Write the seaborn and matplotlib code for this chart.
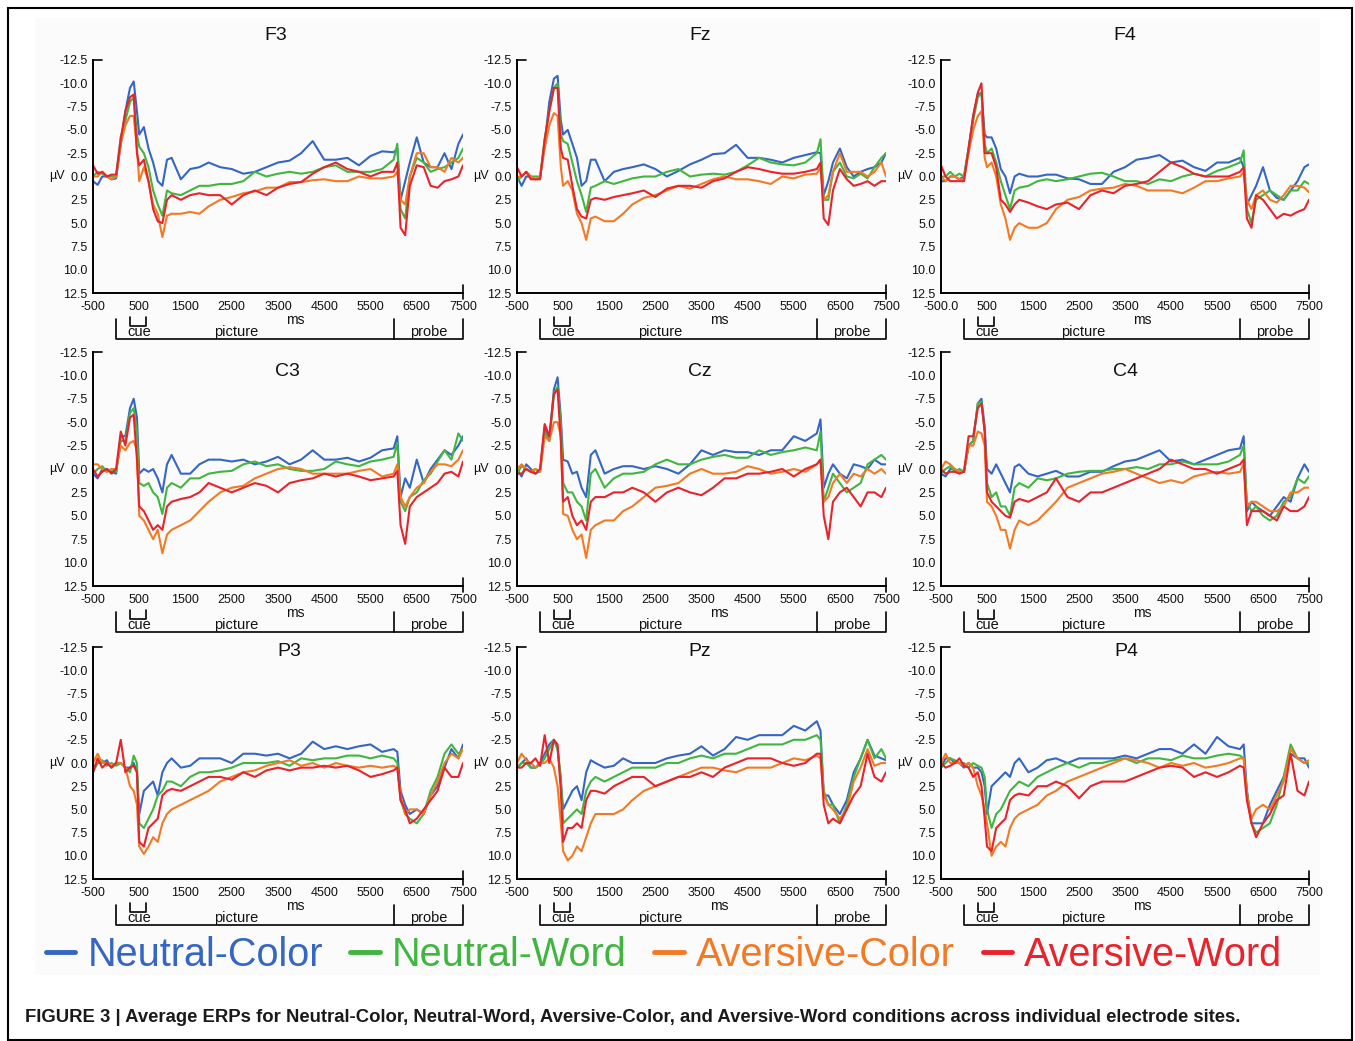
import matplotlib
matplotlib.use('Agg')
import matplotlib.pyplot as plt
from matplotlib import font_manager
from matplotlib.lines import Line2D
from matplotlib.patches import Rectangle
import pandas as pd
import seaborn as sns

# time points (ms) shared by all traces
ms = [-500, -400, -300, -200, -100, 0, 100, 200, 300, 380,
      450, 500, 600, 700, 800, 900, 1000, 1100, 1200, 1400,
      1600, 1800, 2000, 2250, 2500, 2750, 3000, 3250, 3500, 3750,
      4000, 4250, 4500, 4750, 5000, 5250, 5500, 5750, 6000, 6080,
      6150, 6250, 6350, 6500, 6650, 6800, 6950, 7100, 7250, 7400,
      7500]

conditions = ['Neutral-Color', 'Neutral-Word', 'Aversive-Color', 'Aversive-Word']
colors = ['#3566c4', '#40b640', '#f27a24', '#e8232b']
sites = ['F3', 'Fz', 'F4', 'C3', 'Cz', 'C4', 'P3', 'Pz', 'P4']

# values in microvolts (negative plotted up)
f3_nc = [0.5, 0.9, 0.0, 0.0, 0.3, 0.2, -3.5, -7.0, -9.5, -10.2,
         -7.0, -4.5, -5.3, -3.0, -1.5, 0.5, 1.0, -1.8, -2.0, 0.3,
         -0.8, -1.0, -1.5, -1.0, -0.8, -0.3, -0.5, -1.0, -1.5, -1.7,
         -2.5, -3.8, -1.8, -1.8, -2.0, -1.2, -2.2, -2.7, -2.6, -3.0,
         2.5, 0.5, -1.5, -4.2, -1.5, -1.0, -1.0, -2.5, -0.8, -3.5,
         -4.5]
f3_nw = [0.0, -0.5, -0.3, 0.0, 0.0, 0.0, -4.3, -6.0, -8.0, -8.5,
         -4.5, -3.2, -2.5, -1.0, 1.5, 3.0, 4.2, 1.5, 1.8, 2.0,
         1.5, 1.0, 1.0, 0.8, 0.8, 0.5, -0.5, 0.0, -0.3, -0.5,
         -0.3, -0.5, -1.0, -1.2, -0.5, -0.5, -0.5, -0.8, -1.8, -3.5,
         3.5, 4.5, 0.0, -2.0, -1.5, -0.5, -0.8, -1.0, -1.5, -2.0,
         -3.0]
f3_ac = [0.0, 0.0, -0.5, 0.0, 0.3, 0.0, -3.5, -5.5, -6.5, -6.5,
         -3.0, 0.5, -1.0, 0.5, 3.0, 4.0, 6.5, 4.2, 4.0, 4.0,
         3.8, 4.0, 3.2, 2.5, 2.2, 1.8, 1.6, 1.2, 1.2, 0.6,
         0.6, 0.4, 0.3, 0.5, 0.5, 0.0, 0.2, 0.2, 0.0, -0.5,
         2.5, 3.0, 0.0, -2.5, -2.5, -1.0, -1.0, -0.5, -2.0, -1.5,
         -2.0]
f3_aw = [-1.2, -0.3, -0.5, 0.0, -0.2, -0.2, -4.0, -7.0, -8.5, -8.8,
         -2.5, -1.2, -1.8, 0.5, 3.5, 4.8, 5.0, 2.5, 2.0, 2.5,
         2.0, 1.8, 2.0, 2.0, 3.0, 2.0, 1.5, 2.0, 1.2, 0.8,
         0.6, -0.3, -1.0, -1.5, -0.8, -0.5, 0.0, -0.5, -0.5, -1.5,
         5.5, 6.3, 1.0, -1.2, -1.0, 1.0, 1.2, 0.5, 0.3, 0.0,
         -1.2]

fz_nc = [0.0, 1.0, 0.0, 0.0, 0.3, 0.2, -3.5, -8.0, -10.5, -10.8,
         -6.0, -4.5, -5.0, -3.5, -2.0, 1.0, 0.5, -1.8, -1.8, 0.5,
         -0.5, -0.8, -1.0, -1.3, -0.8, 0.0, -0.6, -1.3, -1.8, -2.4,
         -2.5, -3.4, -2.0, -2.0, -1.8, -1.5, -2.0, -2.3, -2.6, -2.5,
         2.0, 0.5, -1.5, -3.0, -1.0, 0.0, -0.5, -0.8, -1.0, -1.5,
         -2.5]
fz_nw = [0.5, 0.0, -0.5, 0.0, 0.0, 0.0, -4.0, -7.0, -9.5, -10.0,
         -4.5, -3.8, -3.5, -1.5, 0.5, 2.0, 3.8, 1.2, 1.0, 0.5,
         0.8, 0.5, 0.2, 0.0, 0.0, -0.5, -0.8, 0.0, -0.2, -0.3,
         -0.2, -0.5, -1.2, -2.0, -1.5, -1.3, -1.2, -1.5, -2.5, -4.0,
         2.5, 2.5, -0.5, -1.5, 0.0, 0.2, -0.3, 0.2, -1.0, -2.0,
         -2.5]
fz_ac = [0.0, 0.0, -0.5, 0.0, 0.3, 0.0, -3.0, -5.5, -6.8, -6.5,
         -1.0, 1.0, 0.5, 1.5, 4.0, 5.0, 6.8, 4.5, 4.3, 4.8,
         4.8, 4.0, 3.0, 2.3, 2.0, 1.5, 1.0, 1.3, 0.8, 0.3,
         0.0, 0.3, 0.3, 0.5, 0.8, 0.0, 0.2, -0.2, -0.3, -1.0,
         2.5, 2.0, -0.5, -2.5, -0.5, -0.5, -0.5, 0.0, -0.5, -1.5,
         0.0]
fz_aw = [-1.0, 0.0, -0.5, 0.3, 0.3, 0.3, -4.0, -7.0, -9.5, -9.5,
         -3.0, -2.0, -1.8, 1.0, 3.5, 4.3, 4.5, 2.5, 2.3, 2.5,
         2.2, 2.0, 1.8, 1.5, 2.2, 1.3, 1.0, 1.0, 1.2, 0.5,
         0.2, -0.5, -1.0, -0.8, -0.5, -0.3, -0.3, -0.5, -0.8, -1.5,
         4.5, 5.2, 1.5, -0.8, 0.3, 1.0, 0.8, 0.5, 1.0, 0.5,
         0.5]

f4_nc = [0.5, 0.5, 0.0, 0.0, 0.3, 0.0, -3.0, -6.5, -8.8, -9.0,
         -4.5, -4.2, -4.2, -3.0, -0.8, 0.0, 1.8, 0.0, -0.3, 0.0,
         0.0, -0.2, -0.2, 0.2, 0.3, 0.8, 0.8, -0.5, -1.0, -1.8,
         -2.0, -2.3, -1.5, -1.7, -1.0, -0.6, -1.5, -1.5, -2.0, -1.0,
         3.0, 2.0, 1.0, -1.0, 1.5, 2.3, 2.5, 1.5, 0.5, -1.0,
         -1.3]
f4_nw = [0.0, 0.0, -0.5, 0.0, -0.3, 0.0, -3.0, -6.0, -8.5, -9.0,
         -3.5, -2.5, -3.0, -1.5, 0.5, 2.0, 3.5, 1.5, 1.2, 1.0,
         0.5, 0.3, 0.5, 0.3, 0.0, -0.3, -0.4, 0.0, 0.5, 0.5,
         0.8, 0.3, 0.5, 0.0, -0.3, 0.0, -0.6, -1.0, -1.5, -2.8,
         3.5, 5.0, 2.5, 2.0, 1.5, 2.0, 2.5, 1.5, 1.5, 0.5,
         0.8]
f4_ac = [0.0, 0.5, 0.0, 0.0, 0.3, 0.3, -2.5, -5.0, -6.5, -7.0,
         -2.0, -1.0, -1.5, 0.0, 3.0, 4.5, 6.8, 5.5, 5.0, 5.5,
         5.5, 5.0, 3.5, 2.5, 2.2, 1.5, 1.3, 1.2, 0.8, 1.0,
         1.5, 1.5, 1.5, 1.8, 1.2, 0.5, 0.5, 0.2, 0.0, -0.5,
         2.5, 3.5, 2.0, 1.5, 2.5, 2.8, 2.0, 1.0, 1.0, 1.2,
         1.7]
f4_aw = [-1.2, 0.0, 0.5, 0.5, 0.5, 0.5, -3.0, -6.5, -9.0, -10.0,
         -2.5, -2.5, -2.5, -1.0, 2.5, 3.0, 3.8, 3.0, 2.5, 2.8,
         3.2, 3.5, 3.0, 2.8, 3.5, 2.0, 1.5, 1.8, 1.0, 0.8,
         0.5, -0.5, -1.5, -1.0, -0.3, 0.0, 0.0, 0.0, -0.5, -1.0,
         4.5, 5.5, 2.0, 2.5, 3.5, 4.5, 4.0, 4.2, 3.8, 3.5,
         2.5]

c3_nc = [0.5, 1.0, 0.0, 0.0, 0.3, 0.5, -3.5, -3.5, -6.5, -7.5,
         -5.5, 0.5, 0.0, 0.3, 0.0, 1.0, 2.5, -0.5, -1.5, 0.5,
         0.5, -0.5, -1.0, -1.0, -0.8, -1.0, -0.5, -0.8, -1.3, -0.5,
         -1.0, -2.0, -1.0, -1.0, -1.2, -0.8, -1.2, -2.0, -2.2, -3.5,
         3.0, 1.0, 2.0, -1.0, 1.5, 0.0, -1.0, -2.0, -1.5, -2.5,
         -3.5]
c3_nw = [0.5, 0.0, -0.3, 0.3, 0.0, 0.3, -3.0, -3.0, -6.0, -6.5,
         -4.0, 1.5, 1.8, 1.5, 2.5, 3.0, 4.8, 2.0, 1.5, 2.0,
         1.0, 1.0, 0.5, 0.3, 0.2, -0.5, -0.8, -0.3, -0.5, 0.0,
         0.2, 0.2, 0.0, -0.8, -0.5, -0.3, -0.8, -1.0, -1.3, -2.8,
         3.5, 4.5, 3.0, 2.5, 1.2, 0.5, -0.8, -2.0, -1.0, -3.8,
         -3.0]
c3_ac = [-0.5, -0.5, 0.0, 0.3, 0.0, 0.0, -2.5, -2.0, -2.8, -3.0,
         -2.0, 5.0, 5.5, 6.5, 7.5, 6.5, 9.0, 7.0, 6.5, 6.0,
         5.5, 4.5, 3.5, 2.5, 2.0, 1.8, 1.0, 0.5, 0.0, -0.2,
         0.0, 0.5, 0.5, 0.5, 0.5, 0.2, 0.0, 0.8, 0.5, -0.5,
         3.0, 4.0, 3.0, 2.0, 1.5, 0.3, -0.5, -0.5, -0.3, -1.0,
         -2.0]
c3_aw = [0.0, 0.8, 0.3, 0.0, 0.5, 0.0, -4.0, -2.5, -5.5, -5.8,
         -1.0, 4.0, 4.5, 5.5, 6.5, 6.0, 6.5, 4.0, 3.5, 3.2,
         3.0, 2.5, 1.5, 2.0, 2.5, 2.0, 1.5, 1.8, 2.5, 1.5,
         1.2, 1.0, 0.5, 0.8, 0.5, 0.8, 1.2, 1.0, 0.8, 0.2,
         6.0, 8.0, 4.0, 3.0, 2.5, 2.0, 1.5, 0.5, 0.3, 0.8,
         -0.8]

cz_nc = [0.0, 0.8, -0.5, 0.0, 0.5, 0.2, -4.5, -3.0, -8.5, -9.8,
         -5.5, -1.0, -0.8, 0.5, 0.3, 2.0, 3.0, -1.5, -2.0, 0.5,
         0.0, -0.3, -0.3, 0.0, -0.3, 0.0, 0.5, -0.5, -2.0, -1.5,
         -2.0, -1.8, -1.8, -1.5, -2.0, -2.0, -3.5, -3.0, -3.8, -5.3,
         2.0, 0.5, -0.5, 0.5, 1.0, -0.5, -0.3, 0.0, -1.0, -0.5,
         -0.5]
cz_nw = [0.5, -0.3, 0.0, 0.3, 0.0, 0.3, -4.0, -3.0, -8.0, -8.8,
         -5.0, 1.5, 2.5, 2.5, 3.5, 4.0, 5.5, 0.5, 0.0, 2.0,
         1.0, 0.5, 0.5, 0.3, -0.5, -1.0, -0.5, -0.5, -1.0, -1.3,
         -1.5, -1.2, -1.2, -2.0, -1.5, -1.8, -2.0, -2.3, -2.0, -4.0,
         3.5, 2.0, 0.5, 1.5, 2.5, 2.0, 1.5, -0.5, -1.0, -1.5,
         -1.0]
cz_ac = [0.0, -0.5, 0.0, 0.3, 0.0, 0.3, -3.5, -3.0, -5.0, -5.0,
         -3.5, 4.8, 5.0, 6.5, 7.5, 7.0, 9.5, 6.5, 6.0, 5.5,
         5.5, 4.5, 4.0, 3.0, 2.0, 1.8, 1.5, 0.5, 0.0, 0.5,
         0.5, 0.3, -0.3, 0.0, 0.5, 0.3, 0.0, 0.3, -0.5, -1.0,
         3.5, 3.0, 1.5, 0.5, 1.5, 0.5, 0.8, 0.0, 0.5, 0.0,
         0.5]
cz_aw = [0.5, 0.5, 0.0, 0.3, 0.5, 0.0, -4.8, -3.5, -8.0, -8.5,
         -3.0, 3.5, 3.0, 5.0, 6.0, 5.5, 6.5, 3.5, 3.0, 3.0,
         2.5, 2.5, 2.0, 2.5, 3.5, 2.5, 2.0, 2.5, 2.8, 2.0,
         1.0, 1.0, 0.5, 0.5, 0.3, 0.0, 0.8, 0.0, -0.5, -1.0,
         5.0, 7.5, 3.5, 2.5, 2.0, 3.0, 4.0, 2.5, 2.5, 3.0,
         2.0]

c4_nc = [0.5, 0.8, 0.0, 0.0, 0.3, 0.3, -2.5, -3.0, -7.0, -7.5,
         -4.5, 0.0, 0.5, -0.5, 0.5, 1.5, 2.5, -0.2, -0.5, 0.5,
         0.8, 0.5, 0.2, 0.8, 0.8, 0.3, 0.3, -0.3, -0.8, -1.0,
         -1.5, -2.0, -0.8, -1.0, -0.5, -1.0, -1.5, -2.0, -2.2, -3.5,
         4.5, 3.5, 4.0, 4.5, 5.0, 4.0, 3.0, 3.5, 1.0, -0.5,
         0.3]
c4_nw = [0.5, 0.0, -0.3, 0.3, 0.0, 0.3, -2.5, -3.0, -7.0, -7.2,
         -4.0, 1.5, 3.0, 2.5, 4.0, 4.0, 5.0, 2.0, 1.5, 2.0,
         1.0, 1.2, 1.0, 0.5, 0.3, 0.2, 0.2, 0.0, 0.0, -0.2,
         0.0, -0.5, -0.5, -0.8, -0.5, -0.5, -0.5, -0.8, -1.5, -2.5,
         3.5, 4.5, 4.0, 5.0, 5.5, 5.0, 3.5, 3.0, 1.0, 1.5,
         0.8]
c4_ac = [0.0, -0.8, -0.5, 0.0, 0.3, 0.3, -2.5, -2.5, -4.0, -3.8,
         -2.5, 3.5, 4.0, 5.0, 6.5, 6.5, 8.5, 6.5, 5.5, 6.0,
         5.5, 4.5, 3.5, 2.0, 1.5, 1.0, 0.5, 0.3, 0.0, 0.5,
         1.0, 1.5, 1.2, 1.5, 0.8, 0.5, 0.3, 0.5, 0.3, -0.5,
         4.0, 3.5, 3.5, 4.0, 4.5, 4.5, 4.0, 2.5, 2.5, 2.0,
         2.0]
c4_aw = [0.0, 0.5, 0.3, 0.3, 0.5, 0.3, -3.5, -3.5, -6.5, -7.0,
         -4.0, 2.5, 3.5, 4.0, 4.5, 5.0, 5.2, 3.5, 3.2, 3.5,
         3.0, 2.5, 1.0, 3.0, 3.5, 2.5, 2.5, 2.0, 1.5, 1.0,
         0.5, 0.0, -1.0, -0.5, 0.0, 0.0, 0.5, 0.0, -0.5, -1.0,
         6.0, 4.5, 4.5, 4.5, 5.0, 5.5, 4.0, 4.5, 4.5, 4.0,
         3.0]

p3_nc = [0.5, 0.0, 0.0, -0.3, 0.5, 0.0, 0.0, 0.5, 0.5, 0.0,
         1.0, 5.5, 3.0, 2.5, 2.0, 3.5, 1.0, 0.0, -0.5, 0.5,
         0.3, -0.5, -0.5, -0.5, 0.0, -1.0, -1.0, -0.8, -1.0, -0.5,
         -1.0, -2.3, -1.5, -1.8, -1.5, -1.8, -2.0, -1.2, -1.5, -1.2,
         3.0, 4.5, 5.5, 5.0, 5.5, 3.5, 2.5, 0.5, -1.5, -0.5,
         -2.0]
p3_nw = [1.0, 0.0, -0.3, 0.3, 0.0, 0.3, 0.0, 0.5, 1.0, -0.8,
         0.0, 6.5, 7.0, 6.0, 5.0, 3.5, 3.0, 2.0, 2.0, 2.5,
         1.5, 1.0, 1.0, 0.8, 0.5, 0.0, 0.0, 0.0, -0.2, 0.3,
         -0.5, -0.3, -0.5, -0.5, -0.8, -0.8, -0.5, -0.8, -0.5, 0.0,
         4.0, 5.5, 6.0, 6.5, 5.5, 3.0, 1.5, -1.0, -2.0, -1.0,
         -1.5]
p3_ac = [0.0, -1.0, 0.0, 0.0, 0.3, 0.0, 0.0, 0.5, 2.5, 3.0,
         4.5, 9.0, 9.8, 9.0, 8.0, 8.5, 6.5, 5.5, 5.0, 4.5,
         4.0, 3.5, 3.0, 2.0, 1.5, 1.0, 0.8, 0.3, 0.0, -0.3,
         0.3, 0.0, 0.5, 0.0, 0.3, 0.5, 0.3, 0.5, 0.3, 0.5,
         3.5, 5.5, 5.0, 5.0, 5.5, 3.5, 2.0, 0.0, -1.0, -0.5,
         -1.5]
p3_aw = [1.0, -0.5, 0.5, 0.0, 0.5, 0.0, -2.5, 1.0, 0.5, 0.3,
         1.0, 8.5, 9.0, 7.0, 6.5, 6.0, 3.5, 3.0, 2.8, 3.0,
         2.5, 2.0, 1.5, 1.5, 1.8, 1.0, 1.5, 0.8, 0.5, 0.8,
         0.5, 0.5, 0.3, 0.5, 0.3, 0.8, 1.5, 1.2, 0.8, 0.5,
         4.0, 5.0, 6.5, 6.0, 5.0, 4.0, 3.0, 0.5, 1.5, 1.5,
         0.0]

pz_nc = [0.5, 0.0, -0.5, 0.5, 0.5, 0.0, -1.0, -2.0, -2.5, -1.5,
         2.0, 5.0, 4.0, 3.0, 2.5, 4.0, 1.0, -0.3, 0.0, 0.5,
         0.3, -0.5, 0.0, 0.0, 0.0, -0.5, -0.8, -1.0, -1.8, -0.8,
         -1.5, -2.8, -2.5, -3.0, -3.0, -3.0, -4.0, -3.5, -4.5, -3.5,
         3.5, 3.5, 4.5, 5.5, 4.0, 1.0, -0.5, -2.5, -0.8, -0.5,
         -0.3]
pz_nw = [0.5, 0.0, 0.0, 0.5, 0.5, 0.2, -0.5, -1.5, -2.5, -1.5,
         1.5, 6.5, 6.0, 5.5, 5.0, 5.5, 3.0, 2.0, 1.5, 2.0,
         1.5, 1.0, 0.5, 0.5, 0.5, 0.0, 0.0, -0.5, -0.8, -0.5,
         -1.0, -1.0, -1.5, -2.0, -2.0, -2.0, -2.5, -2.5, -3.0, -2.5,
         3.0, 4.5, 4.5, 6.5, 4.5, 1.5, -0.5, -2.5, -0.5, -1.5,
         -0.5]
pz_ac = [0.0, -1.0, -0.3, 0.0, 0.5, 0.0, 0.0, -0.5, 0.5, 2.5,
         6.5, 9.5, 10.5, 10.0, 9.0, 9.5, 8.0, 6.5, 5.5, 5.5,
         5.5, 5.0, 4.0, 3.0, 2.5, 2.0, 1.5, 1.0, 0.5, 0.5,
         0.8, 1.0, 0.5, 0.5, 0.5, 0.0, -0.5, -0.3, -0.8, -0.5,
         3.5, 4.5, 5.0, 6.0, 5.0, 2.0, 0.5, -1.5, 0.3, 0.0,
         0.0]
pz_aw = [0.5, 0.5, 0.0, 0.0, -0.5, 0.3, -3.0, 0.0, -2.5, -2.0,
         3.0, 8.5, 7.0, 7.0, 6.5, 7.0, 4.0, 3.0, 3.0, 3.3,
         2.5, 2.0, 1.5, 1.5, 2.5, 2.0, 1.5, 1.5, 1.0, 1.5,
         0.5, 0.0, -0.5, -0.5, -0.5, 0.0, 0.3, 0.0, -1.0, -1.0,
         4.5, 6.5, 6.0, 6.5, 5.0, 3.5, 2.5, -1.0, 1.5, 2.0,
         1.0]

p4_nc = [0.5, -0.5, -0.5, 0.0, 0.0, 0.5, 0.0, 0.5, 0.5, 1.0,
         2.5, 5.5, 2.5, 2.0, 1.5, 1.0, 1.5, 0.0, -0.5, 1.0,
         0.5, -0.3, -0.5, 0.0, -0.5, -0.5, -0.5, -0.5, -0.8, -0.5,
         -1.0, -1.5, -1.5, -1.0, -2.0, -1.0, -2.8, -1.8, -1.5, -2.0,
         3.0, 6.5, 6.5, 6.5, 4.5, 3.0, 1.5, -1.0, -0.5, -0.5,
         0.5]
p4_nw = [0.5, 0.0, -0.5, -0.3, 0.0, 0.0, 0.5, 0.0, 0.3, 0.5,
         1.5, 5.0, 7.0, 5.5, 5.0, 4.0, 3.0, 2.5, 2.0, 2.5,
         1.5, 1.0, 0.5, 0.0, 0.5, 0.0, 0.0, -0.3, -0.5, 0.0,
         -0.5, -0.5, -0.3, -0.8, -0.5, -0.5, -0.8, -1.0, -0.8, -0.5,
         3.0, 6.5, 7.5, 7.0, 6.5, 4.5, 1.5, -2.0, -0.5, 0.0,
         0.0]
p4_ac = [0.0, -1.0, 0.0, 0.0, 0.0, 0.3, 0.0, 0.5, 2.5, 3.5,
         5.0, 6.5, 10.0, 9.0, 8.5, 9.0, 7.0, 6.0, 5.5, 5.0,
         4.5, 3.5, 3.0, 2.0, 1.5, 1.0, 0.5, 0.0, -0.5, -0.3,
         0.0, 0.5, 0.0, 0.3, 0.0, 0.5, 0.3, 0.0, -0.5, -0.5,
         3.5, 6.0, 5.0, 4.5, 5.0, 3.5, 2.0, -1.5, -0.5, 0.0,
         -0.3]
p4_aw = [0.0, 0.5, 0.3, 0.0, -0.5, 0.3, 0.5, 1.5, 1.0, 2.5,
         6.0, 9.0, 9.5, 7.0, 6.5, 6.0, 4.0, 3.5, 3.3, 3.5,
         2.5, 2.5, 2.0, 2.5, 3.8, 2.5, 2.0, 2.0, 2.0, 1.5,
         1.0, 0.5, 0.3, 0.5, 1.5, 1.0, 1.5, 1.0, 0.3, 0.5,
         4.0, 6.5, 8.0, 6.5, 5.5, 4.0, 3.5, -1.0, 3.0, 3.5,
         2.0]

traces = {
    'F3': [f3_nc, f3_nw, f3_ac, f3_aw],
    'Fz': [fz_nc, fz_nw, fz_ac, fz_aw],
    'F4': [f4_nc, f4_nw, f4_ac, f4_aw],
    'C3': [c3_nc, c3_nw, c3_ac, c3_aw],
    'Cz': [cz_nc, cz_nw, cz_ac, cz_aw],
    'C4': [c4_nc, c4_nw, c4_ac, c4_aw],
    'P3': [p3_nc, p3_nw, p3_ac, p3_aw],
    'Pz': [pz_nc, pz_nw, pz_ac, pz_aw],
    'P4': [p4_nc, p4_nw, p4_ac, p4_aw],
}

xticks = [-500, 500, 1500, 2500, 3500, 4500, 5500, 6500, 7500]
yticks = [-12.5, -10.0, -7.5, -5.0, -2.5, 0.0, 2.5, 5.0, 7.5, 10.0, 12.5]
ytick_labels = ['-12.5', '-10.0', '-7.5', '-5.0', '-2.5', '0.0',
                '2.5', '5.0', '7.5', '10.0', '12.5']

# trial timeline shown under each panel (ms)
cue_on, cue_off = 300, 650
picture_on, probe_on, trial_end = 0, 6000, 7500

caption = ('FIGURE 3 | Average ERPs for Neutral-Color, Neutral-Word, Aversive-Color, '
           'and Aversive-Word conditions across individual electrode sites.')

# long-form table for seaborn
rows = []
for site in sites:
    for cond, vals in zip(conditions, traces[site]):
        assert len(vals) == len(ms), (site, cond, len(vals))
        for t, v in zip(ms, vals):
            rows.append((site, cond, t, v))
df = pd.DataFrame(rows, columns=['site', 'condition', 'ms', 'uV'])

sns.set_style('white')
names = {f.name for f in font_manager.fontManager.ttflist}
narrow = 'Liberation Sans Narrow' if 'Liberation Sans Narrow' in names else 'Liberation Sans'
plt.rcParams['font.family'] = ['Liberation Sans', 'DejaVu Sans']

W, H = 1355, 1041
fig = plt.figure(figsize=(W / 100, H / 100), dpi=100)
fig.patch.set_facecolor('white')

# panel boxes in pixels
col_x = [(93, 463), (517, 886), (941, 1309)]
row_y = [(60, 293), (352, 586), (647, 879)]
title_xy = {'F3': (276, 35), 'Fz': (700, 35), 'F4': (1125, 35),
            'C3': (287, 372), 'Cz': (700, 372), 'C4': (1126, 372),
            'P3': (289, 652), 'Pz': (700, 652), 'P4': (1126, 652)}

fig.patches.append(Rectangle((35 / W, 1 - 975 / H), (1320 - 35) / W, (975 - 18) / H,
                             transform=fig.transFigure, facecolor='#fbfbfb',
                             edgecolor='none', zorder=-10))
fig.patches.append(Rectangle((8 / W, 1 - 1040 / H), (1352 - 8) / W, (1040 - 8) / H,
                             transform=fig.transFigure, fill=False,
                             edgecolor='black', lw=1.5, zorder=10))

for i, site in enumerate(sites):
    r, c = divmod(i, 3)
    x0, x1 = col_x[c]
    y0, y1 = row_y[r]
    ax = fig.add_axes([x0 / W, 1 - y1 / H, (x1 - x0) / W, (y1 - y0) / H])
    ax.set_facecolor('none')
    sns.lineplot(data=df[df.site == site], x='ms', y='uV', hue='condition',
                 hue_order=conditions, palette=colors, estimator=None, sort=False,
                 lw=1.5, legend=False, ax=ax)
    ax.set_xlim(-500, 7500)
    ax.set_ylim(12.5, -12.5)
    ax.set_xticks(xticks)
    xl = [str(t) for t in xticks]
    if site == 'F4':
        xl[0] = '-500.0'
    ax.set_xticklabels(xl)
    ax.set_yticks(yticks)
    ax.set_yticklabels(ytick_labels)
    ax.set_xlabel('')
    ax.set_ylabel('')
    for s in ['top', 'right']:
        ax.spines[s].set_visible(False)
    for s in ['left', 'bottom']:
        ax.spines[s].set_color('black')
        ax.spines[s].set_linewidth(1.4)
    ax.tick_params(axis='x', direction='in', length=6, width=1.2, pad=6,
                   labelsize=9, colors='#111111')
    ax.tick_params(axis='y', direction='out', length=3, width=1.0, pad=1,
                   labelsize=9, colors='#111111')
    ax.grid(False)

    axh = y1 - y0
    tr = ax.get_xaxis_transform()

    def fy(px):
        return -px / axh

    kw = dict(transform=tr, color='black', lw=1.2, clip_on=False)
    ax.plot([0, 0.025], [1, 1], transform=ax.transAxes, color='black', lw=1.2,
            clip_on=False)
    ax.plot([trial_end, trial_end], [fy(-8), fy(6)], **kw)
    ax.plot([picture_on, picture_on, trial_end, trial_end],
            [fy(26), fy(46), fy(46), fy(26)], **kw)
    ax.plot([probe_on, probe_on], [fy(26), fy(46)], **kw)
    ax.plot([cue_on, cue_on, cue_off, cue_off], [fy(24), fy(33), fy(33), fy(24)], **kw)
    tkw = dict(transform=tr, ha='center', va='center', fontsize=10.5, color='#111111')
    ax.text(500, fy(39), 'cue', **tkw)
    ax.text(2600, fy(39), 'picture', **tkw)
    ax.text(6760, fy(39), 'probe', **tkw)
    ax.text(3880, fy(27), 'ms', transform=tr, ha='center', va='center',
            fontsize=10, color='#111111')
    ax.annotate('µV', xy=(0, 0), xycoords=('axes fraction', 'data'),
                xytext=(-28, 0), textcoords='offset pixels', ha='right',
                va='center', fontsize=9, color='#111111')

    tx, ty = title_xy[site]
    fig.text(tx / W, 1 - ty / H, site, ha='center', va='center', fontsize=14,
             color='#111111')

handles = [Line2D([], [], color=col, lw=3.5) for col in colors]
fig.legend(handles, conditions, loc='center', bbox_to_anchor=(664 / W, 1 - 955 / H),
           ncol=4, frameon=False, fontsize=28.5, handlelength=0.75, handletextpad=0.3,
           columnspacing=0.7, labelcolor=colors)

cap = fig.text(25 / W, 1 - 1018 / H, caption, ha='left', va='center',
               fontweight='bold', family=narrow, fontsize=13, color='#1a1a1a')
fig.canvas.draw()
w = cap.get_window_extent().width
cap.set_fontsize(13 * 1211 / w)

fig.savefig('out.png', dpi=100)
